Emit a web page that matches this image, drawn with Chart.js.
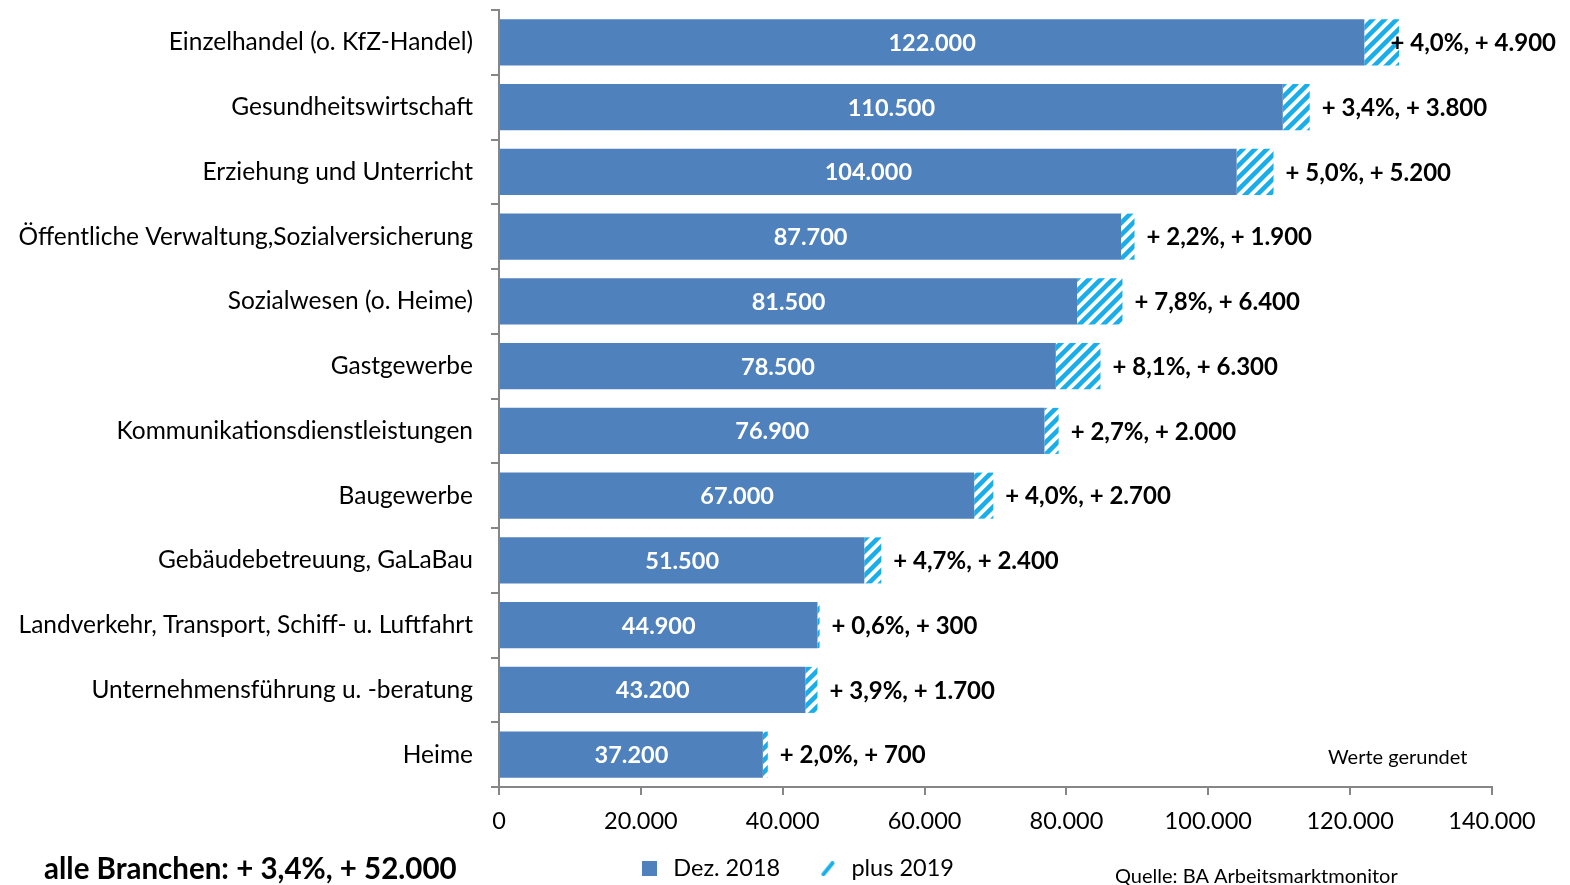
<!DOCTYPE html>
<html lang="de">
<head>
<meta charset="utf-8">
<title>Beschäftigung nach Branchen</title>
<script src="https://cdn.jsdelivr.net/npm/chart.js"></script>
<style>
  html, body { margin: 0; padding: 0; background: #fff; }
  #wrap { width: 1570px; height: 885px; }
</style>
</head>
<body>
<div id="wrap"><canvas id="myChart" width="1570" height="885"></canvas></div>
<script>
const categories = [
    'Einzelhandel (o. KfZ-Handel)',
    'Gesundheitswirtschaft',
    'Erziehung und Unterricht',
    'Öffentliche Verwaltung,Sozialversicherung',
    'Sozialwesen (o. Heime)',
    'Gastgewerbe',
    'Kommunikationsdienstleistungen',
    'Baugewerbe',
    'Gebäudebetreuung, GaLaBau',
    'Landverkehr, Transport, Schiff- u. Luftfahrt',
    'Unternehmensführung u. -beratung',
    'Heime'
];
const valuesDez2018 = [122000, 110500, 104000, 87700, 81500, 78500, 76900, 67000, 51500, 44900, 43200, 37200];
const valuesPlus2019 = [4900, 3800, 5200, 1900, 6400, 6300, 2000, 2700, 2400, 300, 1700, 700];
const percentPlus = [4.0, 3.4, 5.0, 2.2, 7.8, 8.1, 2.7, 4.0, 4.7, 0.6, 3.9, 2.0];
const xTicks = [0, 20000, 40000, 60000, 80000, 100000, 120000, 140000];
const seriesNames = ['Dez. 2018', 'plus 2019'];
const totalPercent = 3.4;
const totalPlus = 52000;
const noteText = 'Werte gerundet';
const sourceText = 'Quelle: BA Arbeitsmarktmonitor';

const fontFamily = 'Lato, "Open Sans", sans-serif';
const blue = '#4F81BD';
const stripeBlue = '#17AEEA';
const axisGrey = '#868686';

const fmtNum = v => v.toLocaleString('de-DE');
const fmtPct = v => v.toLocaleString('de-DE', { minimumFractionDigits: 1, maximumFractionDigits: 1 });

// Schraffur fuer "plus 2019"
function makeStripes() {
    const s = 12;
    const c = document.createElement('canvas');
    c.width = s; c.height = s;
    const g = c.getContext('2d');
    g.fillStyle = '#fff';
    g.fillRect(0, 0, s, s);
    g.strokeStyle = stripeBlue;
    g.lineWidth = 4.5;
    g.beginPath();
    g.moveTo(-2, s + 2); g.lineTo(s + 2, -2);
    g.moveTo(-2, 2); g.lineTo(2, -2);
    g.moveTo(s - 2, s + 2); g.lineTo(s + 2, s - 2);
    g.stroke();
    return g.createPattern(c, 'repeat');
}

// Legenden-Symbole
function legendBox() {
    const c = document.createElement('canvas');
    c.width = 15; c.height = 15;
    const g = c.getContext('2d');
    g.fillStyle = blue;
    g.fillRect(0, 0, 15, 15);
    return c;
}
function legendSlash() {
    const c = document.createElement('canvas');
    c.width = 15; c.height = 15;
    const g = c.getContext('2d');
    g.strokeStyle = stripeBlue;
    g.lineWidth = 4;
    g.lineCap = 'round';
    g.beginPath();
    g.moveTo(3, 13); g.lineTo(12, 2);
    g.stroke();
    return c;
}

const labelsPlugin = {
    id: 'labelsPlugin',
    afterLayout(chart) {
        // Legende etwas nach rechts / oben schieben wie im Original
        const lg = chart.legend;
        if (lg) {
            lg.left += 50; lg.right += 50;
            lg.top -= 16;
            lg.bottom = chart.height;
            lg.height = lg.bottom - lg.top;
        }
    },
    afterDatasetsDraw(chart) {
        const ctx = chart.ctx;
        const base = chart.getDatasetMeta(0).data;
        const plus = chart.getDatasetMeta(1).data;
        ctx.save();
        ctx.textBaseline = 'middle';
        // Werte in den Balken
        ctx.font = 'bold 23.5px ' + fontFamily;
        ctx.fillStyle = '#fff';
        ctx.textAlign = 'center';
        base.forEach((bar, i) => {
            ctx.fillText(fmtNum(valuesDez2018[i]), (bar.base + bar.x) / 2, bar.y + 1);
        });
        // Zuwachs rechts daneben
        ctx.font = 'bold 24px ' + fontFamily;
        ctx.fillStyle = '#000';
        ctx.textAlign = 'left';
        plus.forEach((bar, i) => {
            const txt = '+ ' + fmtPct(percentPlus[i]) + '%, + ' + fmtNum(valuesPlus2019[i]);
            const w = ctx.measureText(txt).width;
            const x = Math.min(bar.x + 12, chart.width - w - 14);
            ctx.fillText(txt, x, bar.y + 1);
        });
        ctx.restore();
    },
    afterDraw(chart) {
        const ctx = chart.ctx;
        ctx.save();
        ctx.textBaseline = 'middle';
        ctx.textAlign = 'left';
        ctx.fillStyle = '#000';
        ctx.font = 'bold 29.5px ' + fontFamily;
        ctx.fillText('alle Branchen: + ' + fmtPct(totalPercent) + '%, + ' + fmtNum(totalPlus), 44, 869);
        ctx.font = '20px ' + fontFamily;
        ctx.fillText(noteText, 1328, 758);
        ctx.fillText(sourceText, 1115, 877);
        ctx.restore();
    }
};

const ctx = document.getElementById('myChart').getContext('2d');

const myChart = new Chart(ctx, {
    type: 'bar',
    data: {
        labels: categories,
        datasets: [
            {
                label: seriesNames[0],
                data: valuesDez2018,
                backgroundColor: blue,
                barPercentage: 0.9,
                categoryPercentage: 0.79,
            },
            {
                label: seriesNames[1],
                data: valuesPlus2019,
                backgroundColor: makeStripes(),
                barPercentage: 0.9,
                categoryPercentage: 0.79,
            }
        ]
    },
    options: {
        indexAxis: 'y',
        responsive: false,
        animation: false,
        layout: {
            padding: { top: 10, right: 78, bottom: 0, left: 0 }
        },
        scales: {
            x: {
                stacked: true,
                min: 0,
                max: 140000,
                afterBuildTicks: scale => { scale.ticks = xTicks.map(v => ({ value: v })); },
                afterFit: scale => { scale.height = 50; },
                ticks: {
                    callback: v => fmtNum(v),
                    color: '#000',
                    font: { family: fontFamily, size: 23.5 },
                    padding: 12,
                    maxRotation: 0,
                },
                grid: {
                    drawOnChartArea: false,
                    drawTicks: true,
                    tickLength: 8,
                    color: axisGrey,
                    lineWidth: 2,
                },
                border: { color: axisGrey, width: 2 },
            },
            y: {
                stacked: true,
                afterFit: scale => {
                    scale.width = 499;
                    scale.paddingTop = 0;
                    scale.paddingBottom = 0;
                },
                ticks: {
                    color: '#000',
                    font: { family: fontFamily, size: 24.5 },
                    padding: 18,
                },
                grid: {
                    offset: true,
                    drawOnChartArea: false,
                    drawTicks: true,
                    tickLength: 8,
                    color: axisGrey,
                    lineWidth: 2,
                },
                border: { color: axisGrey, width: 2 },
            }
        },
        plugins: {
            legend: {
                position: 'bottom',
                maxHeight: 48,
                labels: {
                    usePointStyle: true,
                    color: '#000',
                    font: { family: fontFamily, size: 23.5 },
                    padding: 36,
                    generateLabels: () => [
                        { text: seriesNames[0], pointStyle: legendBox(), fillStyle: blue, strokeStyle: blue, lineWidth: 0, datasetIndex: 0, fontColor: '#000' },
                        { text: seriesNames[1], pointStyle: legendSlash(), fillStyle: stripeBlue, strokeStyle: stripeBlue, lineWidth: 0, datasetIndex: 1, fontColor: '#000' },
                    ],
                },
            },
            tooltip: { enabled: false },
        }
    },
    plugins: [labelsPlugin],
});
</script>
</body>
</html>
